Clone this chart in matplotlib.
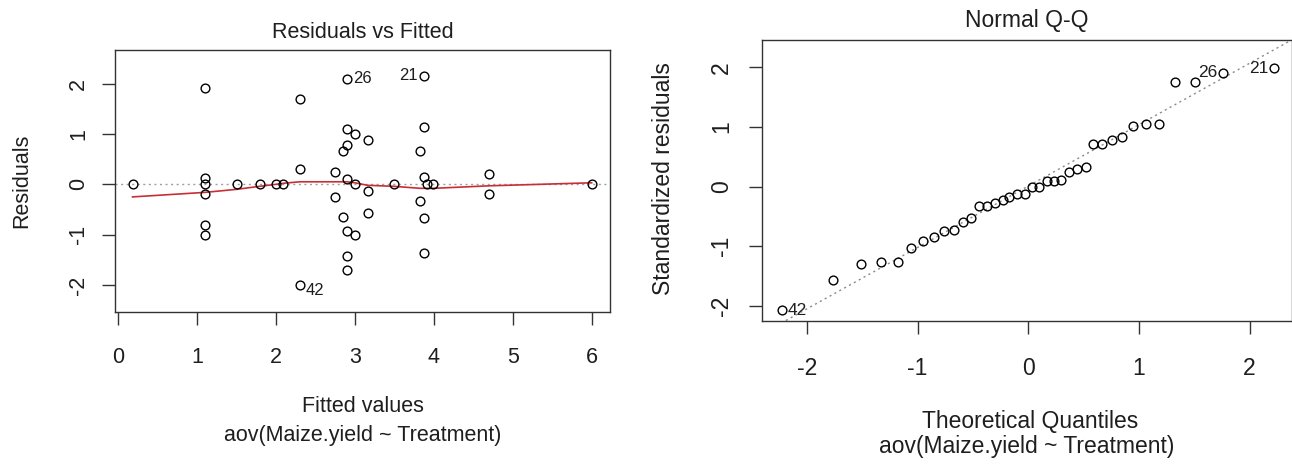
import matplotlib.pyplot as plt

plt.rcParams['font.family'] = ['Liberation Sans', 'DejaVu Sans']
plt.rcParams['axes.unicode_minus'] = False

# Residuals vs Fitted
fitted = [0.18, 1.1, 1.1, 1.1, 1.1, 1.1, 1.1, 1.5, 1.79, 2.0, 2.09,
          2.3, 2.3, 2.3, 2.75, 2.75, 2.85, 2.85,
          2.9, 2.9, 2.9, 2.9, 2.9, 2.9, 2.9, 3.0, 3.0, 3.0,
          3.16, 3.16, 3.16, 3.49,
          3.87, 3.87, 3.83, 3.87, 3.91, 3.99, 3.83, 3.87, 3.87,
          4.7, 4.7, 6.0]
residuals = [0.0, 1.92, 0.12, 0.0, -0.2, -0.81, -1.0, 0.0, 0.0, 0.0, 0.0,
             1.69, 0.30, -2.0, 0.24, -0.25, 0.67, -0.64,
             2.09, 1.09, 0.78, 0.10, -0.92, -1.42, -1.70, 1.0, 0.0, -1.0,
             0.87, -0.14, -0.56, 0.0,
             2.15, 1.13, 0.67, 0.14, 0.0, 0.0, -0.34, -0.67, -1.36,
             0.2, -0.2, 0.0]
smooth_x = [0.18, 1.1, 1.5, 1.79, 2.0, 2.09, 2.3, 2.75, 2.9, 3.0, 3.16, 3.49, 3.83, 3.99, 4.7, 6.0]
smooth_y = [-0.25, -0.16, -0.10, -0.04, 0.0, 0.02, 0.05, 0.05, 0.05, 0.03, -0.02, -0.04, -0.08, -0.08, -0.03, 0.03]
resid_labels = [("26", 2.9, 2.09, "left"), ("21", 3.87, 2.15, "right"), ("42", 2.3, -2.0, "left")]

# Normal Q-Q
theo_q = [-2.22, -1.76, -1.51, -1.33, -1.18, -1.06, -0.95, -0.85, -0.76, -0.67,
          -0.59, -0.52, -0.44, -0.37, -0.30, -0.23, -0.17, -0.10, -0.03,
          0.03, 0.10, 0.17, 0.23, 0.30, 0.37, 0.44, 0.52, 0.59, 0.67,
          0.76, 0.85, 0.95, 1.06, 1.18, 1.33, 1.51, 1.76, 2.22]
std_resid = [-2.07, -1.56, -1.29, -1.26, -1.27, -1.03, -0.91, -0.84, -0.75, -0.73,
             -0.60, -0.53, -0.33, -0.32, -0.28, -0.23, -0.18, -0.13, -0.13,
             0.0, 0.0, 0.10, 0.10, 0.12, 0.25, 0.29, 0.33, 0.71, 0.72,
             0.78, 0.83, 1.01, 1.05, 1.05, 1.76, 1.76, 1.91, 1.99]
qq_slope, qq_intercept = 1.03, 0.01
qq_labels = [("42", -2.22, -2.07, "left"), ("26", 1.76, 1.91, "right"), ("21", 2.22, 1.99, "right")]

subtitle = "aov(Maize.yield ~ Treatment)"
W, H = 1292, 468
ink = "#1e1e1e"
box = "#333333"

fig = plt.figure(figsize=(W / 100, H / 100), dpi=100)


def style(ax, fs, xpad, ypad):
    for s in ax.spines.values():
        s.set_color(box)
        s.set_linewidth(1.0)
    ax.tick_params(direction="out", length=9.5, width=1.0, color=box,
                   labelsize=fs, labelcolor=ink)
    ax.tick_params(axis="x", pad=xpad)
    ax.tick_params(axis="y", pad=ypad)
    for t in ax.get_yticklabels():
        t.set_rotation(90)
        t.set_va("center")


# left panel
ax1 = fig.add_axes([115 / W, 1 - 311.7 / H, (610 - 115) / W, (311.7 - 50) / H])
ax1.axhline(0, color="#a0a0a0", lw=1.0, ls=(0, (1.5, 2.5)), zorder=1)
ax1.plot(smooth_x, smooth_y, color="#c62f36", lw=1.2, zorder=2)
ax1.plot(fitted, residuals, "o", mfc="none", mec="black", ms=6.3, mew=1.0, zorder=3)
for lab, x, y, ha in resid_labels:
    dy = -4 if lab == "42" else 0
    dx = 4 if ha == "left" else -4
    ax1.annotate(lab, (x, y), xytext=(dx, dy), textcoords="offset points",
                 ha=ha, va="center", fontsize=12, color=ink)
ax1.set_xlim(-0.042, 6.232)
ax1.set_ylim(-2.528, 2.665)
ax1.set_xticks(range(0, 7))
ax1.set_yticks([-2, -1, 0, 1, 2])
style(ax1, 15.5, 15.6, 9)

# right panel
ax2 = fig.add_axes([762 / W, 1 - 320.5 / H, (1291.5 - 762) / W, (320.5 - 40) / H])
ax2.axline((0, qq_intercept), slope=qq_slope, color="#8a8a8a", lw=1.0,
           ls=(0, (1.5, 2.5)), zorder=1)
ax2.plot(theo_q, std_resid, "o", mfc="none", mec="black", ms=6.3, mew=1.0, zorder=3)
for lab, x, y, ha in qq_labels:
    dx = 4 if ha == "left" else -4
    ax2.annotate(lab, (x, y), xytext=(dx, 0), textcoords="offset points",
                 ha=ha, va="center", fontsize=12.5, color=ink)
ax2.set_xlim(-2.405, 2.379)
ax2.set_ylim(-2.245, 2.461)
ax2.set_xticks([-2, -1, 0, 1, 2])
ax2.set_yticks([-2, -1, 0, 1, 2])
style(ax2, 16.5, 17, 11.5)

# titles and axis captions
fig.text(362.5 / W, 1 - 32 / H, "Residuals vs Fitted", ha="center", va="center", fontsize=15.5, color=ink)
fig.text(362.5 / W, 1 - 407 / H, "Fitted values", ha="center", va="center", fontsize=15.5, color=ink)
fig.text(362.5 / W, 1 - 435 / H, subtitle, ha="center", va="center", fontsize=15.5, color=ink)
fig.text(22 / W, 1 - 181 / H, "Residuals", ha="center", va="center", rotation=90, fontsize=15.5, color=ink)

fig.text(1027 / W, 1 - 21 / H, "Normal Q-Q", ha="center", va="center", fontsize=16.5, color=ink)
fig.text(1030 / W, 1 - 421.7 / H, "Theoretical Quantiles", ha="center", va="center", fontsize=16.5, color=ink)
fig.text(1027 / W, 1 - 446.7 / H, subtitle, ha="center", va="center", fontsize=16.5, color=ink)
fig.text(663 / W, 1 - 179 / H, "Standardized residuals", ha="center", va="center", rotation=90, fontsize=16.5, color=ink)

fig.savefig("out.png", dpi=100, facecolor="white")
